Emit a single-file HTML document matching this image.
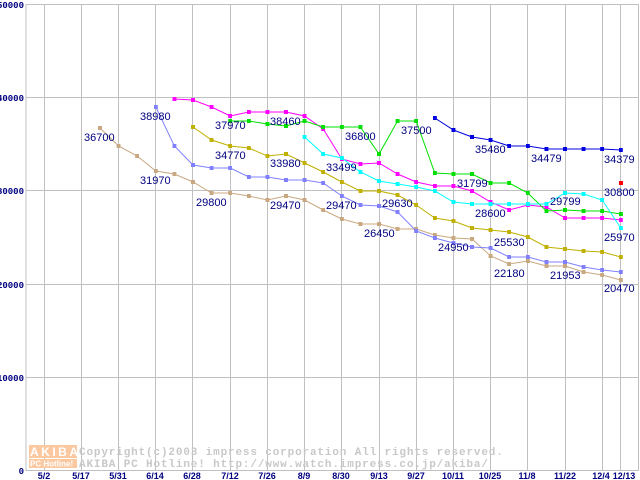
<!DOCTYPE html>
<html><head><meta charset="utf-8"><style>
html,body{margin:0;padding:0;background:#fff;width:640px;height:480px;overflow:hidden}
svg{display:block}
.yl{font:bold 9px "Liberation Mono",monospace;fill:#000080}
.xl{font:bold 9px "Liberation Sans",sans-serif;fill:#000080}
.lb{font:11px "Liberation Sans",sans-serif;fill:#000080}
.wm{font:bold 11px "Liberation Mono",monospace;fill:#c8c8c8;letter-spacing:0.85px}
</style></head><body>
<svg width="640" height="480" viewBox="0 0 640 480" xmlns="http://www.w3.org/2000/svg">
<defs>
<marker id="mTan" markerUnits="userSpaceOnUse" markerWidth="4" markerHeight="4" refX="2" refY="2"><rect width="4" height="4" fill="#c8a880"/></marker>
<marker id="mPer" markerUnits="userSpaceOnUse" markerWidth="4" markerHeight="4" refX="2" refY="2"><rect width="4" height="4" fill="#8080ff"/></marker>
<marker id="mOl" markerUnits="userSpaceOnUse" markerWidth="4" markerHeight="4" refX="2" refY="2"><rect width="4" height="4" fill="#c0b000"/></marker>
<marker id="mMg" markerUnits="userSpaceOnUse" markerWidth="4" markerHeight="4" refX="2" refY="2"><rect width="4" height="4" fill="#ff00ff"/></marker>
<marker id="mGr" markerUnits="userSpaceOnUse" markerWidth="4" markerHeight="4" refX="2" refY="2"><rect width="4" height="4" fill="#00e000"/></marker>
<marker id="mCy" markerUnits="userSpaceOnUse" markerWidth="4" markerHeight="4" refX="2" refY="2"><rect width="4" height="4" fill="#00ffff"/></marker>
<marker id="mDb" markerUnits="userSpaceOnUse" markerWidth="4" markerHeight="4" refX="2" refY="2"><rect width="4" height="4" fill="#0000e0"/></marker>
</defs>
<g stroke="#c0c0c0" stroke-width="1">
<line x1="26" y1="4.5" x2="639" y2="4.5"/>
<line x1="26" y1="97.5" x2="639" y2="97.5"/>
<line x1="26" y1="190.5" x2="639" y2="190.5"/>
<line x1="26" y1="284.5" x2="639" y2="284.5"/>
<line x1="26" y1="377.5" x2="639" y2="377.5"/>
<line x1="26" y1="470.5" x2="639" y2="470.5"/>
<line x1="26" y1="4" x2="26" y2="471"/>
<line x1="44.5" y1="4" x2="44.5" y2="471"/>
<line x1="81.5" y1="4" x2="81.5" y2="471"/>
<line x1="118.5" y1="4" x2="118.5" y2="471"/>
<line x1="155.5" y1="4" x2="155.5" y2="471"/>
<line x1="192.5" y1="4" x2="192.5" y2="471"/>
<line x1="230.5" y1="4" x2="230.5" y2="471"/>
<line x1="267.5" y1="4" x2="267.5" y2="471"/>
<line x1="304.5" y1="4" x2="304.5" y2="471"/>
<line x1="341.5" y1="4" x2="341.5" y2="471"/>
<line x1="379.5" y1="4" x2="379.5" y2="471"/>
<line x1="416.5" y1="4" x2="416.5" y2="471"/>
<line x1="453.5" y1="4" x2="453.5" y2="471"/>
<line x1="490.5" y1="4" x2="490.5" y2="471"/>
<line x1="527.5" y1="4" x2="527.5" y2="471"/>
<line x1="565.5" y1="4" x2="565.5" y2="471"/>
<line x1="602.5" y1="4" x2="602.5" y2="471"/>
<line x1="620.5" y1="4" x2="620.5" y2="471"/>
<line x1="638.5" y1="4" x2="638.5" y2="471"/>
</g>
<g text-anchor="end" class="yl">
<text x="24" y="8">50000</text><text x="24" y="101">40000</text><text x="24" y="194">30000</text>
<text x="24" y="288">20000</text><text x="24" y="381">10000</text><text x="24" y="474">0</text>
</g>
<g text-anchor="middle" class="xl">
<text x="44" y="479">5/2</text><text x="81" y="479">5/17</text><text x="118" y="479">5/31</text>
<text x="155" y="479">6/14</text><text x="192" y="479">6/28</text><text x="230" y="479">7/12</text>
<text x="267" y="479">7/26</text><text x="304" y="479">8/9</text><text x="341" y="479">8/30</text>
<text x="379" y="479">9/13</text><text x="416" y="479">9/27</text><text x="453" y="479">10/11</text>
<text x="490" y="479">10/25</text><text x="527" y="479">11/8</text><text x="565" y="479">11/22</text>
<text x="601" y="479">12/4</text><text x="624" y="479">12/13</text>
</g>
<g>
<rect x="29" y="445" width="48" height="13" fill="#fcc8a0"/>
<rect x="29" y="459" width="48" height="9" fill="#fcc8a0"/>
<text x="30" y="456" font-family="Liberation Sans" font-weight="bold" font-size="12" fill="#fff" letter-spacing="2.5">AKIBA</text>
<text x="30" y="466.5" font-family="Liberation Sans" font-weight="bold" font-size="8" fill="#fff">PC Hotline!</text>
<text x="79" y="455" class="wm">Copyright(c)2003 impress corporation All rights reserved.</text>
<text x="79" y="467" class="wm">AKIBA PC Hotline!  http://www.watch.impress.co.jp/akiba/</text>
</g>
<g fill="none" stroke-width="1">
<polyline stroke="#c8a880" marker-start="url(#mTan)" marker-mid="url(#mTan)" marker-end="url(#mTan)" points="100,128 118.6,146 137.2,156 155.8,171 174.4,174 193,182 211.6,193 230.2,193 248.8,196 267.4,200 286,196 304.6,200 323.2,210 341.8,219 360.4,224 379,224 397.6,229 416.2,229 434.8,235 453.4,238 472,239 490.6,256 509.2,264 527.8,261 546.4,266 565,266 583.6,272 602.2,275 620.8,280"/>
<polyline stroke="#8080ff" marker-start="url(#mPer)" marker-mid="url(#mPer)" marker-end="url(#mPer)" points="155.8,107 174.4,146 193,165 211.6,168 230.2,168 248.8,177 267.4,177 286,180 304.6,180 323.2,183 341.8,196 360.4,205 379,206 397.6,212 416.2,231 434.8,238 453.4,243 472,247 490.6,248 509.2,257 527.8,257 546.4,262 565,262 583.6,267 602.2,270 620.8,272"/>
<polyline stroke="#c0b000" marker-start="url(#mOl)" marker-mid="url(#mOl)" marker-end="url(#mOl)" points="193,127 211.6,140 230.2,146 248.8,148 267.4,156 286,154 304.6,163 323.2,172 341.8,182 360.4,191 379,191 397.6,195 416.2,205 434.8,218 453.4,221 472,228 490.6,230 509.2,232 527.8,237 546.4,247 565,249 583.6,251 602.2,252 620.8,257"/>
<polyline stroke="#ff00ff" marker-start="url(#mMg)" marker-mid="url(#mMg)" marker-end="url(#mMg)" points="174.4,99 193,100 211.6,107 230.2,116 248.8,112 267.4,112 286,112 304.6,116 323.2,129 341.8,159 360.4,164 379,163 397.6,174 416.2,182 434.8,186 453.4,186 472,191 490.6,202 509.2,210 527.8,205 546.4,207 565,218 583.6,218 602.2,218 620.8,220"/>
<polyline stroke="#00e000" marker-start="url(#mGr)" marker-mid="url(#mGr)" marker-end="url(#mGr)" points="230.2,121 248.8,121 267.4,124 286,126 304.6,121 323.2,127 341.8,127 360.4,127 379,154 397.6,121 416.2,121 434.8,173 453.4,174 472,174 490.6,183 509.2,183 527.8,193 546.4,211 565,210 583.6,211 602.2,211 620.8,214"/>
<polyline stroke="#00ffff" marker-start="url(#mCy)" marker-mid="url(#mCy)" marker-end="url(#mCy)" points="304.6,137 323.2,154 341.8,158 360.4,172 379,181 397.6,184 416.2,187 434.8,191 453.4,202 472,204 490.6,204 509.2,204 527.8,204 546.4,204 565,193 583.6,194 602.2,200 620.8,228"/>
<polyline stroke="#0000e0" marker-start="url(#mDb)" marker-mid="url(#mDb)" marker-end="url(#mDb)" points="434.8,118 453.4,130 472,137 490.6,140 509.2,146 527.8,146 546.4,149 565,149 583.6,149 602.2,149 620.8,150"/>
</g>
<rect x="619" y="181" width="4" height="4" fill="#ff0000"/>
<g class="lb">
<text x="84" y="141">36700</text>
<text x="140" y="120">38980</text>
<text x="140" y="184">31970</text>
<text x="215" y="129">37970</text>
<text x="215" y="159">34770</text>
<text x="270" y="125">38460</text>
<text x="270" y="167">33980</text>
<text x="196" y="206">29800</text>
<text x="270" y="209">29470</text>
<text x="326" y="171">33499</text>
<text x="345" y="140">36800</text>
<text x="401" y="134">37500</text>
<text x="475" y="153">35480</text>
<text x="531" y="162">34479</text>
<text x="604" y="163">34379</text>
<text x="457" y="187">31799</text>
<text x="604" y="196">30800</text>
<text x="326" y="209">29470</text>
<text x="382" y="207">29630</text>
<text x="475" y="217">28600</text>
<text x="550" y="205">29799</text>
<text x="364" y="237">26450</text>
<text x="438" y="251">24950</text>
<text x="494" y="246">25530</text>
<text x="604" y="241">25970</text>
<text x="494" y="277">22180</text>
<text x="550" y="279">21953</text>
<text x="604" y="292">20470</text>
</g>
</svg>
</body></html>
